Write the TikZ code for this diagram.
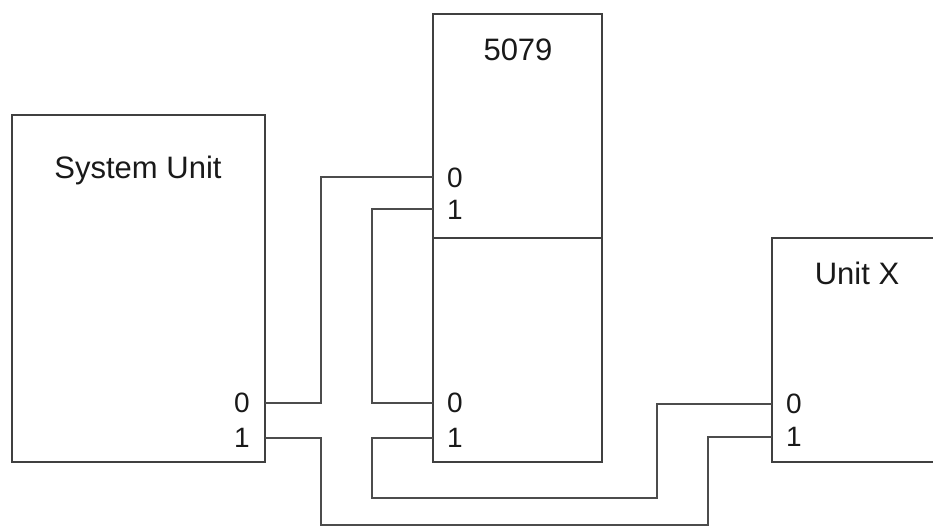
\documentclass[tikz,border=0pt]{standalone}
\usepackage{fontspec}
\setmainfont{Liberation Sans}
\begin{document}
\begin{tikzpicture}[x=1pt,y=-1pt,
  box/.style={draw=black!75,line width=1.5pt,fill=none,inner sep=0pt},
  wire/.style={draw=black!70,line width=1.6pt},
  title/.style={text=black!90,font=\fontsize{31}{34}\selectfont,inner sep=0pt},
  port/.style={text=black!90,font=\fontsize{28}{31}\selectfont,inner sep=0pt}]
\useasboundingbox (0,0) rectangle (933,527);
% boxes
\node[box,minimum width=253pt,minimum height=347pt] (su) at (138.5,288.5) {};
\node[box,minimum width=169pt,minimum height=224pt] (up) at (517.5,126) {};
\node[box,minimum width=169pt,minimum height=224pt] (lo) at (517.5,350) {};
\node[box,minimum width=180pt,minimum height=224pt] (ux) at (862,350) {};
% titles
\node[title] (tsu) at (138,170) {System Unit};
\node[title] (tup) at (518,50) {5079};
\node[title] (tux) at (857,273) {Unit X};
% port labels
\node[port] (lsu0) at (242,403) {0};
\node[port] (lsu1) at (242,438) {1};
\node[port] (la0) at (455,178) {0};
\node[port] (la1) at (455,210) {1};
\node[port] (lb0) at (455,403) {0};
\node[port] (lb1) at (455,438) {1};
\node[port] (lx0) at (794,404) {0};
\node[port] (lx1) at (794,437) {1};
% port coordinates
\coordinate (su0) at (265,403);
\coordinate (su1) at (265,438);
\coordinate (a0) at (433,177);
\coordinate (a1) at (433,209);
\coordinate (b0) at (433,403);
\coordinate (b1) at (433,438);
\coordinate (x0) at (772,404);
\coordinate (x1) at (772,437);
% connectors
\draw[wire] (su0) -- ++(56,0) |- (a0);
\draw[wire] (a1) -- ++(-61,0) |- (b0);
\draw[wire] (b1) -- ++(-61,0) -- ++(0,60) -- ++(285,0) |- (x0);
\draw[wire] (su1) -- ++(56,0) -- ++(0,87) -- ++(387,0) |- (x1);
\end{tikzpicture}
\end{document}
